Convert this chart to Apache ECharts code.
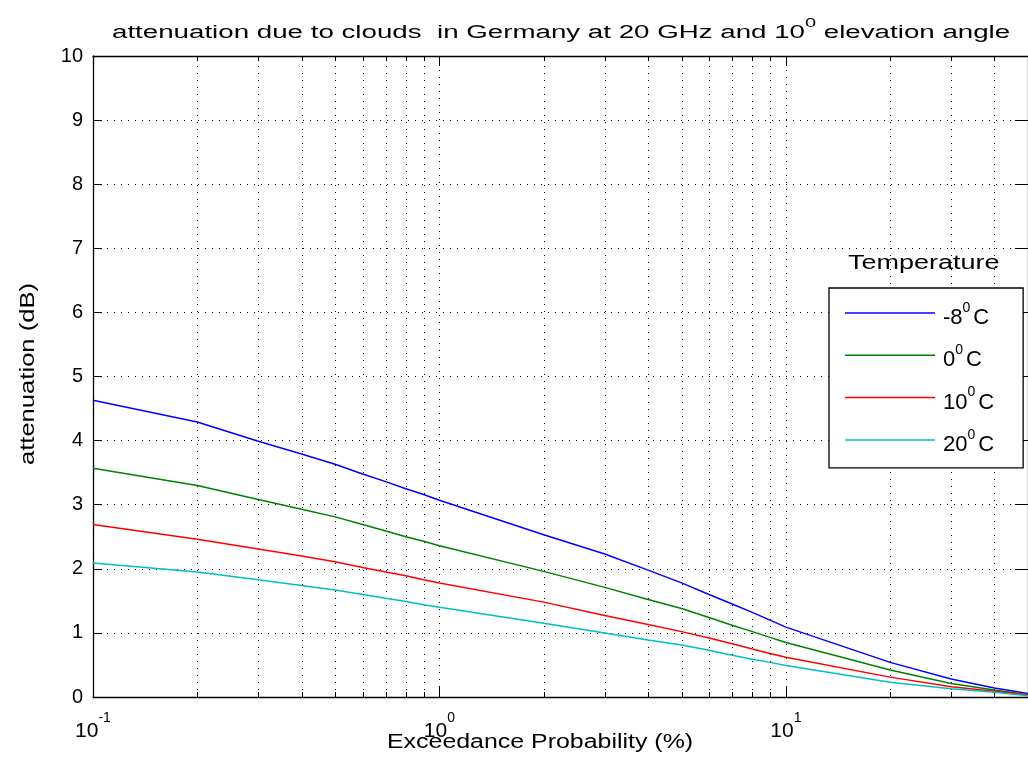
<!DOCTYPE html>
<html><head><meta charset="utf-8">
<script src="https://cdn.jsdelivr.net/npm/echarts@6/dist/echarts.min.js"></script>
<style>html,body{margin:0;padding:0;background:#fff}#chart{width:1028px;height:778px}</style>
</head><body><div id="chart"></div>
<script>
// ---- data ----
const probabilities = [0.1,0.2,0.3,0.4,0.5,0.6,0.7,0.8,0.9,1,2,3,4,5,6,7,8,9,10,20,30,40,50];
const attMinus8 = [4.63,4.29,3.99,3.79,3.63,3.48,3.36,3.25,3.16,3.07,2.53,2.23,1.98,1.78,1.60,1.45,1.32,1.20,1.09,0.54,0.28,0.14,0.055];
const att0      = [3.57,3.30,3.08,2.93,2.81,2.69,2.59,2.50,2.43,2.36,1.96,1.71,1.52,1.38,1.24,1.12,1.02,0.93,0.85,0.42,0.21,0.11,0.035];
const att10     = [2.69,2.46,2.31,2.20,2.11,2.02,1.95,1.89,1.83,1.78,1.48,1.27,1.13,1.02,0.92,0.83,0.75,0.68,0.62,0.31,0.16,0.09,0.035];
const att20     = [2.09,1.95,1.83,1.74,1.67,1.60,1.54,1.49,1.44,1.40,1.15,1.00,0.89,0.81,0.73,0.65,0.59,0.54,0.49,0.23,0.13,0.075,0.018];
const seriesNames = ['-8°C','0°C','10°C','20°C'];
const seriesColors = ['#0000ff','#008000','#ff0000','#00bfbf'];
const xMinorTicks = [0.2,0.3,0.4,0.5,0.6,0.7,0.8,0.9,2,3,4,5,6,7,8,9,20,30,40];
const xMin = 0.1, xMax = 50;
const yMin = 0, yMax = 10, yStep = 1;
const titleText = ['attenuation due to clouds  in Germany at 20 GHz and 10', '0', ' elevation angle'];
const xName = 'Exceedance Probability (%)';
const yName = 'attenuation (dB)';
const legendTitle = 'Temperature';

const FONT = "'Liberation Sans', Arial, sans-serif";
const dotted = {color:'#000', width:1, type:[1,6]};
const allSeries = [attMinus8, att0, att10, att20];

const chart = echarts.init(document.getElementById('chart'), null, {renderer:'canvas'});

const series = [{
  type:'custom', silent:true, z:1, xAxisIndex:0, yAxisIndex:0,
  data: xMinorTicks.map(v => [v, yMin]),
  renderItem: (params, api) => {
    const x = api.value(0);
    const b = api.coord([x, yMin]);
    const t = api.coord([x, yMax]);
    const px = Math.round(b[0]) + 0.5;
    return {type:'group', children:[
      {type:'line', shape:{x1:px,y1:b[1],x2:px,y2:t[1]}, style:{stroke:'#000', lineWidth:1, lineDash:[1,6]}},
      {type:'line', shape:{x1:px,y1:b[1],x2:px,y2:b[1]-5}, style:{stroke:'#000', lineWidth:1}},
      {type:'line', shape:{x1:px,y1:t[1],x2:px,y2:t[1]+5}, style:{stroke:'#000', lineWidth:1}}
    ]};
  }
}];
allSeries.forEach((vals, i) => {
  series.push({
    name: seriesNames[i], type:'line', xAxisIndex:0, yAxisIndex:0,
    data: probabilities.map((p, k) => [p, vals[k]]),
    symbol:'none', showSymbol:false, smooth:false, z:3,
    lineStyle:{color:seriesColors[i], width:1.5}, itemStyle:{color:seriesColors[i]}
  });
});

function logLabel(v) {
  const l = Math.log10(v), e = Math.round(l);
  if (Math.abs(l - e) > 1e-6 || v > 20) return '';
  return '{b|10}{s|' + e + '}';
}

const option = {
  animation:false,
  backgroundColor:'#fff',
  grid:{left:93, right:-8, top:56, bottom:81, containLabel:false},
  xAxis:[{
    type:'log', logBase:10, min:xMin, max:xMax, position:'bottom',
    axisLine:{show:true, onZero:false, lineStyle:{color:'#000', width:1.3}},
    axisTick:{show:true, inside:true, length:10, lineStyle:{color:'#000', width:1}},
    axisLabel:{show:true, margin:14, showMaxLabel:false, formatter:logLabel, color:'#000',
      rich:{
        b:{fontFamily:FONT, fontSize:21, padding:[10,0,0,0], verticalAlign:'bottom', color:'#000'},
        s:{fontFamily:FONT, fontSize:14, verticalAlign:'top', color:'#000'}
      }},
    splitLine:{show:true, lineStyle:dotted}
  },{
    type:'log', logBase:10, min:xMin, max:xMax, position:'top',
    axisLine:{show:true, onZero:false, lineStyle:{color:'#000', width:1.3}},
    axisTick:{show:true, inside:true, length:10, lineStyle:{color:'#000', width:1}},
    axisLabel:{show:false}, splitLine:{show:false}
  }],
  yAxis:[{
    type:'value', min:yMin, max:yMax, interval:yStep, position:'left',
    axisLine:{show:true, onZero:false, lineStyle:{color:'#000', width:1.3}},
    axisTick:{show:true, inside:true, length:9, lineStyle:{color:'#000', width:1}},
    axisLabel:{show:true, margin:10, fontFamily:FONT, fontSize:20, color:'#000'},
    splitLine:{show:true, lineStyle:dotted}
  },{
    type:'value', min:yMin, max:yMax, interval:yStep, position:'right',
    axisLine:{show:true, onZero:false, lineStyle:{color:'#000', width:1.3}},
    axisTick:{show:true, inside:true, length:13, lineStyle:{color:'#000', width:1}},
    axisLabel:{show:false}, splitLine:{show:false}
  }],
  legend:{
    data:seriesNames, orient:'vertical', left:829, top:288,
    padding:[13,29,12,16], itemWidth:90, itemHeight:1.5, itemGap:14.3, icon:'rect',
    borderColor:'#000', borderWidth:1.3, backgroundColor:'#fff', selectedMode:false,
    formatter: name => { const p = name.split('°'); return '{b|' + p[0] + '}{s|0}{b|' + p[1] + '}'; },
    textStyle:{fontFamily:FONT, color:'#000',
      rich:{
        b:{fontFamily:FONT, fontSize:22, padding:[10,0,0,3], verticalAlign:'bottom', color:'#000'},
        s:{fontFamily:FONT, fontSize:14, padding:[4,0,0,0], verticalAlign:'top', color:'#000'}
      }}
  },
  graphic:[
    {type:'text', x:112, y:17, scaleX:1.539, silent:true,
      style:{text:'{b|' + titleText[0] + '}{s|' + titleText[1] + '}{b|' + titleText[2] + '}',
        align:'left', verticalAlign:'top', fill:'#000',
        rich:{
          b:{fontFamily:FONT, fontSize:18, padding:[7,0,0,0], verticalAlign:'bottom', fill:'#000'},
          s:{fontFamily:FONT, fontSize:13, verticalAlign:'top', fill:'#000'}
        }}},
    {type:'text', x:387, y:742, scaleX:1.246, silent:true,
      style:{text:xName, font:'20px ' + FONT, align:'left', verticalAlign:'middle', fill:'#000'}},
    {type:'text', x:28, y:374, rotation:Math.PI/2, scaleX:1.28, silent:true,
      style:{text:yName, font:'20px ' + FONT, align:'center', verticalAlign:'middle', fill:'#000'}},
    {type:'text', x:848, y:263, scaleX:1.35, silent:true,
      style:{text:legendTitle, font:'20px ' + FONT, align:'left', verticalAlign:'middle', fill:'#000'}}
  ],
  series: series
};
chart.setOption(option);
</script></body></html>
